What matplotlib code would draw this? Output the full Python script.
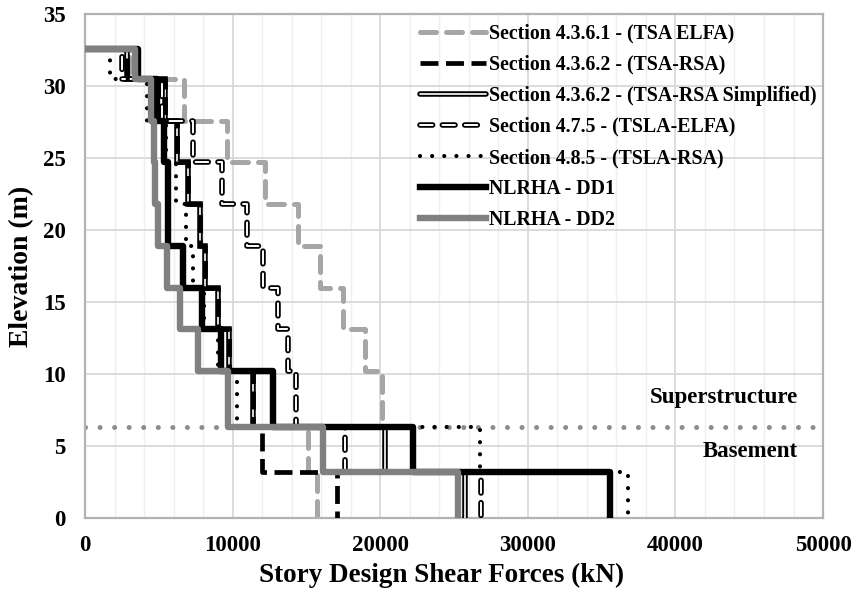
import numpy as np
import matplotlib.pyplot as plt
import matplotlib.patheffects as pe

# Floor levels (m), bottom to top
levels = [0, 3.2, 6.3, 10.2, 13.1, 16.0, 18.9, 21.8, 24.7, 27.6, 30.5, 32.6]

# Story design shears (kN), bottom story first
tsa_elfa = [15700, 15110, 20100, 18970, 17500, 15920, 14400, 12200, 9600, 6700, 3000]
tsa_rsa = [17050, 11970, 11360, 9760, 8990, 8130, 7790, 7000, 6210, 5420, 2820]
tsa_rsa_simpl = [25750, 20300, 11360, 9760, 8990, 8130, 7790, 7000, 6210, 5420, 2820]
tsla_elfa = [26830, 17600, 14300, 13780, 13050, 12080, 10990, 9260, 7340, 5200, 2490]
tsla_rsa = [36770, 26760, 10320, 9030, 8080, 7340, 6820, 6140, 5500, 4180, 1690]
dd1 = [35570, 22250, 12760, 9200, 7900, 6660, 5650, 5600, 5350, 4850, 3590]
dd2 = [25270, 16120, 9690, 7680, 6440, 5530, 4950, 4750, 4680, 4450, 3390]

base_level = 6.3
x_ticks = [0, 10000, 20000, 30000, 40000, 50000]
y_ticks = [0, 5, 10, 15, 20, 25, 30, 35]


def stair(v):
    # step line from the roof down, starting at zero shear
    v = np.asarray(v)[::-1]
    z = np.asarray(levels)[::-1]
    xs = np.concatenate([[0], np.repeat(v, 2)])
    ys = np.append(np.repeat(z[:-1], 2), z[-1])
    return xs, ys


plt.rcParams['font.family'] = 'Liberation Serif'
plt.rcParams['font.weight'] = 'bold'
plt.rcParams['axes.labelweight'] = 'bold'

fig = plt.figure(figsize=(8.61, 5.95), dpi=100)
ax = fig.add_axes([0.0987, 0.1294, 0.8572, 0.8471])

# superstructure / basement boundary
ax.axhline(base_level, color='#8c8c8c', lw=3.6, ls=(0, (0.01, 2.9)),
           dash_capstyle='round', zorder=1)

x, y = stair(tsa_elfa)
ax.plot(x, y, color='#a6a6a6', lw=3.6, ls=(0, (3.2, 2.0)), dash_capstyle='round',
        label='Section 4.3.6.1 - (TSA ELFA)', zorder=2)

x, y = stair(tsa_rsa_simpl)
ax.plot(x, y, color='white', lw=1.2, solid_capstyle='round', solid_joinstyle='miter',
        path_effects=[pe.Stroke(linewidth=4.0, foreground='black'), pe.Normal()],
        label='Section 4.3.6.2 - (TSA-RSA Simplified)', zorder=3)

x, y = stair(tsa_rsa)
ax.plot(x, y, color='black', lw=3.4, ls=(0, (3.8, 1.6)),
        label='Section 4.3.6.2 - (TSA-RSA)', zorder=4)

x, y = stair(tsla_elfa)
ax.plot(x, y, color='white', lw=1.4, ls=(0, (6.5, 5.0)), dash_capstyle='round',
        path_effects=[pe.Stroke(linewidth=4.0, foreground='black'), pe.Normal()],
        label='Section 4.7.5 - (TSLA-ELFA)', zorder=5)

x, y = stair(tsla_rsa)
ax.plot(x, y, color='black', lw=3.0, ls=(0, (0.01, 2.9)), dash_capstyle='round',
        label='Section 4.8.5 - (TSLA-RSA)', zorder=6)

x, y = stair(dd1)
ax.plot(x, y, color='black', lw=4.6, label='NLRHA - DD1', zorder=7)

x, y = stair(dd2)
ax.plot(x, y, color='#808080', lw=4.6, label='NLRHA - DD2', zorder=8)

ax.text(48300, 8.4, 'Superstructure', ha='right', va='center', fontsize=16.5, fontweight='bold')
ax.text(48300, 4.6, 'Basement', ha='right', va='center', fontsize=16.5, fontweight='bold')

ax.set_xlim(0, 50000)
ax.set_ylim(0, 35)
ax.set_xticks(x_ticks)
ax.set_yticks(y_ticks)
ax.set_xticklabels([str(t) for t in x_ticks], fontweight='bold')
ax.set_yticklabels([str(t) for t in y_ticks], fontweight='bold')
ax.set_xticks(np.arange(0, 50001, 2000), minor=True)
ax.tick_params(which='both', length=0, labelsize=16.5)
ax.tick_params(axis='x', pad=12)
ax.tick_params(axis='y', pad=14)
ax.grid(True, which='major', color='#d9d9d9', lw=1.3, zorder=0)
ax.grid(True, which='minor', axis='x', color='#efefef', lw=1.0, zorder=0)
ax.set_axisbelow(True)
for s in ax.spines.values():
    s.set_color('#b3b3b3')
    s.set_linewidth(1.6)

ax.set_xlabel('Story Design Shear Forces (kN)', fontsize=19.5, fontweight='bold', labelpad=5)
ax.xaxis.label.set_x(0.483)
ax.set_ylabel('Elevation (m)', fontsize=20, fontweight='bold', labelpad=6)

# legend in the same order as the original
h, l = ax.get_legend_handles_labels()
order = ['Section 4.3.6.1 - (TSA ELFA)', 'Section 4.3.6.2 - (TSA-RSA)',
         'Section 4.3.6.2 - (TSA-RSA Simplified)', 'Section 4.7.5 - (TSLA-ELFA)',
         'Section 4.8.5 - (TSLA-RSA)', 'NLRHA - DD1', 'NLRHA - DD2']
hd = dict(zip(l, h))
leg = ax.legend([hd[k] for k in order], order, loc='upper left', bbox_to_anchor=(0.454, 0.981),
                frameon=False, fontsize=14.3, handlelength=3.3, handletextpad=0.15,
                labelspacing=0.56, borderpad=0, borderaxespad=0)
for t in leg.get_texts():
    t.set_fontweight('bold')

fig.savefig('out.png', dpi=100)
